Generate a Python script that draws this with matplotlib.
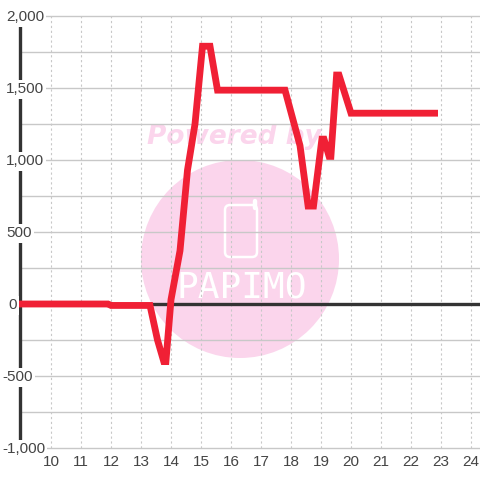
"""Red profit curve by hour, with a faded pink watermark behind it."""

import matplotlib

matplotlib.use("Agg")

import matplotlib.pyplot as plt
from matplotlib.patches import Circle, FancyBboxPatch
from matplotlib.transforms import IdentityTransform

hours = [8.9, 11.9, 12.0, 13.3, 13.55, 13.76, 13.83, 14.0, 14.3, 14.55, 14.8, 15.05,
         15.3, 15.55, 17.8, 18.3, 18.57, 18.75, 19.03, 19.1, 19.27, 19.33, 19.52, 19.6, 20.0, 22.9]
profit = [0, 0, -10, -10, -250, -400, -400, 30, 370, 930, 1250, 1790,
          1790, 1485, 1485, 1100, 680, 680, 1145, 1145, 1025, 1025, 1590, 1590, 1325, 1325]

x_ticks = list(range(10, 25))
y_ticks = [2000, 1500, 1000, 500, 0, -500, -1000]
y_grid = list(range(-1000, 2001, 250))

TEXT = "#444444"
DARK = "#333333"
GRID = "#c8c8c8"
RED = "#f02035"
PINK = "#fbd5ec"

plt.rcParams["font.family"] = ["Liberation Sans", "DejaVu Sans"]

figure = plt.figure(figsize=(4.8, 4.8), dpi=100)
axis = figure.add_axes([0, 0, 1, 1])
axis.set_xlim(10 - 51 / 30, 10 + (480 - 51) / 30)
axis.set_ylim((304 - 480) * 500 / 72, 304 * 500 / 72)
axis.axis("off")


def to_x(px):
    return 10 + (px - 51) / 30


def to_y(py):
    return (304 - py) * 500 / 72


# watermark sits under the grid, placed in image pixels
pixels = IdentityTransform()
axis.add_patch(Circle((240, 480 - 259), 99, transform=pixels, facecolor=PINK, edgecolor="none", zorder=1))
axis.add_patch(FancyBboxPatch((225, 480 - 257), 32, 52, boxstyle="round,pad=0,rounding_size=5",
                              transform=pixels, facecolor="none", edgecolor="white", linewidth=1.8, zorder=1.5))
axis.plot([255, 255], [480 - 208, 480 - 201], transform=pixels, color="white", linewidth=3.2,
          solid_capstyle="round", zorder=1.5)
axis.text(234, 480 - 137, "Powered by", transform=pixels, fontsize=19, color=PINK, fontweight="bold",
          style="italic", family="DejaVu Sans", ha="center", va="center", zorder=1.5)
axis.text(242, 480 - 288, "PAPIMO", transform=pixels, fontsize=26, color="white", family="DejaVu Sans Mono",
          ha="center", va="center", zorder=1.5)

for value in y_grid:
    axis.plot([to_x(20), to_x(480)], [value, value], color=GRID, linewidth=1.0, zorder=2)
for value in x_ticks:
    axis.plot([value, value], [-1000, 2000], color=GRID, linewidth=0.8, linestyle=(0, (2, 2.4)), zorder=2)

axis.plot([to_x(20), to_x(20)], [-1000, 2000], color=DARK, linewidth=2.4, zorder=3, solid_capstyle="butt")
axis.plot([to_x(20), to_x(480)], [0, 0], color=DARK, linewidth=2.4, zorder=3, solid_capstyle="butt")
axis.plot(hours, profit, color=RED, linewidth=4.9, zorder=4, solid_joinstyle="miter", solid_capstyle="butt")

for value in y_ticks:
    left = 2 if value < 0 else (8 if value == 0 else 6)
    axis.text(to_x(left), value - 10, f"{value:,}", fontsize=11, color=TEXT, ha="left", va="center", zorder=5,
              bbox=dict(facecolor="white", edgecolor="none", pad=1.5))
for value in x_ticks:
    axis.text(value, to_y(461.5), str(value), fontsize=11, color=TEXT, ha="center", va="center", zorder=5)

figure.savefig("out.png", dpi=100)
plt.close(figure)
